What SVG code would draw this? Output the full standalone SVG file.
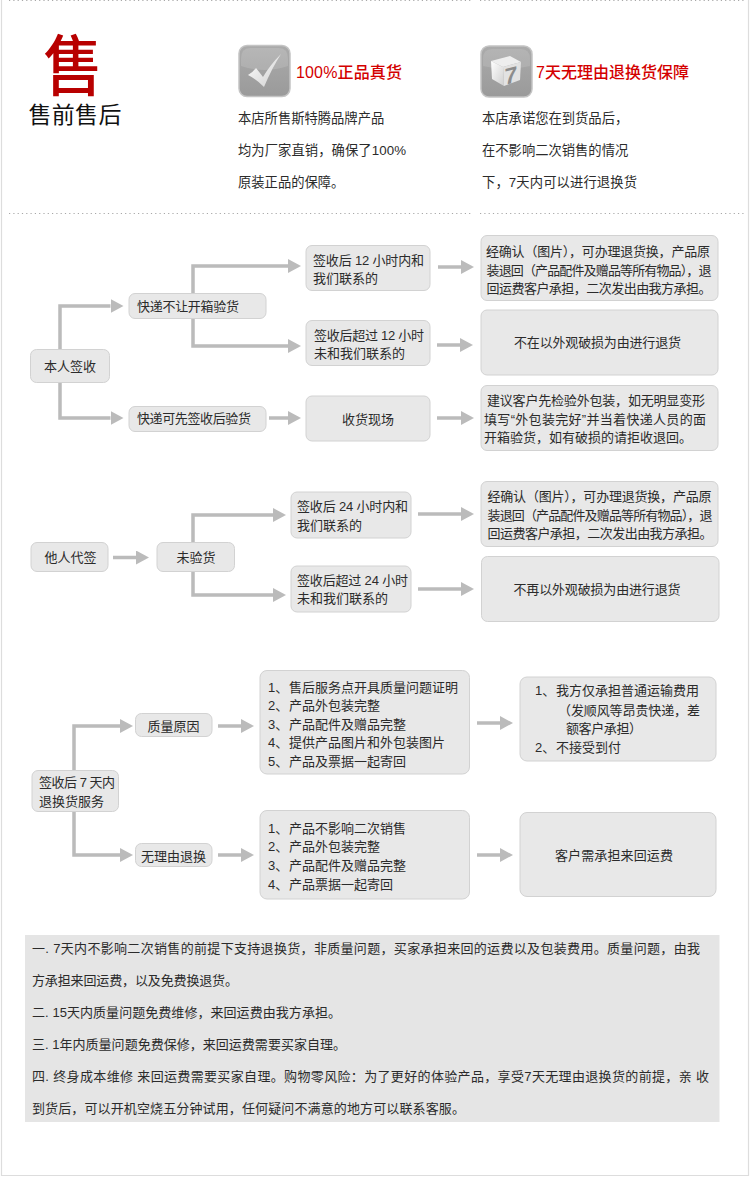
<svg xmlns="http://www.w3.org/2000/svg" width="750" height="1177" viewBox="0 0 750 1177">
<style>
text{font-family:"Liberation Sans","Noto Sans CJK SC",sans-serif;font-size:13px;fill:#2b2b2b}
.b{fill:#e8e8e8;stroke:#d2d2d2;stroke-width:1}
.c{fill:none;stroke:#bbb;stroke-width:3.5;marker-end:url(#h)}
.d{fill:none;stroke:#a8a8a8;stroke-width:1;stroke-dasharray:1.2 3.1}
.m{text-anchor:middle}
.t{font-size:16px;fill:#d40000;font-weight:500}
.p{font-size:13.3px}
</style>
<defs>
<marker id="h" markerUnits="userSpaceOnUse" markerWidth="13" markerHeight="14" refX="0" refY="7" orient="auto"><path d="M0 0L13 7L0 14z" fill="#bbb"/></marker>
<linearGradient id="g" x1="0" y1="0" x2="0" y2="1"><stop offset="0" stop-color="#ababab"/><stop offset="1" stop-color="#9a9a9a"/></linearGradient>
<linearGradient id="w" x1="0" y1="0" x2="1" y2="1"><stop offset="0" stop-color="#fff"/><stop offset="1" stop-color="#cfcfcf"/></linearGradient>
</defs>
<rect width="750" height="1177" fill="#fff"/>
<path d="M1.500 0V1175.500H748.500V0" fill="none" stroke="#ddd" stroke-width="1.200"/>
<path class="d" d="M9 .5H473M480 .5H745M9 213.500H473M480 213.500H745"/>

<g id="logo">
<text transform="translate(73 90) scale(.9 1)" class="m" style="font-size:66px;font-weight:500;fill:#b80000;font-family:'Noto Sans CJK SC',sans-serif">售</text>
<text x="28.500" y="123" style="font-size:23px;fill:#111;letter-spacing:.3px">售前售后</text>
</g>
<g id="guarantee-genuine">
<rect x="239" y="45.500" width="51" height="51" rx="8" fill="url(#g)" stroke="#c4c4c4" stroke-width="1.500"/>
<path d="M241 59Q241 48 250 48H279Q288 48 288 59V66Q264 74 241 66z" fill="#fff" opacity=".14"/>
<path d="M248 75Q253 72 256 68Q260 73 263 77Q270 65 281 54Q272 68 264 87Q256 79 248 75z" fill="url(#w)"/>
<text x="296" y="78" class="t" textLength="106">100%正品真货</text>
<text x="238" y="123" class="p">本店所售斯特腾品牌产品</text>
<text x="238" y="155" class="p" textLength="168">均为厂家直销，确保了100%</text>
<text x="238" y="187" class="p">原装正品的保障。</text>
</g>
<g id="guarantee-7day">
<rect x="481" y="46" width="51" height="51" rx="8" fill="url(#g)" stroke="#c4c4c4" stroke-width="1.500"/>
<path d="M483 59Q483 49 492 49H521Q530 49 530 59V66Q506 72 483 66z" fill="#fff" opacity=".12"/>
<path d="M491 61L510 56L521 62L503 67z" fill="#eee"/>
<path d="M491 61L503 67L504 86L492 79z" fill="url(#w)"/>
<path d="M503 67L521 62L520 80L504 86z" fill="#e2e2e2"/>
<text transform="translate(504.500 85) skewY(-14)" style="font-size:23px;font-weight:700;fill:#8c8c8c">7</text>
<text x="536" y="78" class="t" textLength="153">7天无理由退换货保障</text>
<text x="482" y="123" class="p">本店承诺您在到货品后，</text>
<text x="482" y="155" class="p">在不影响二次销售的情况</text>
<text x="482" y="187" class="p" textLength="155">下，7天内可以进行退换货</text>
</g>

<g id="connectors">
<path class="c" d="M60 349V306H110.500"/>
<path class="c" d="M60 382V418H110.500"/>
<path class="c" d="M193 293V266H288"/>
<path class="c" d="M193 318V346H288"/>
<path class="c" d="M269 418H288"/>
<path class="c" d="M438 267H461"/>
<path class="c" d="M437 345H460"/>
<path class="c" d="M437 418H461"/>
<path class="c" d="M113 557.500H136"/>
<path class="c" d="M193 542V515H273"/>
<path class="c" d="M193 572V595H273"/>
<path class="c" d="M418 514H461"/>
<path class="c" d="M418 589H461"/>
<path class="c" d="M74 770V726H120"/>
<path class="c" d="M74 812V855H120"/>
<path class="c" d="M218 726H241"/>
<path class="c" d="M218 855H241"/>
<path class="c" d="M477 723H500"/>
<path class="c" d="M477 855H500"/>
</g>

<g id="n-self"><rect class="b" x="30.500" y="349.500" width="79" height="33" rx="6"/><text x="70" y="371" class="m">本人签收</text></g>
<g id="n-noopen"><rect class="b" x="129" y="293.500" width="137" height="25" rx="6"/><text x="137" y="310.500" textLength="102">快递不让开箱验货</text></g>
<g id="n-signfirst"><rect class="b" x="129" y="406.500" width="137" height="25" rx="6"/><text x="137" y="423" textLength="114">快递可先签收后验货</text></g>
<g id="n-12in"><rect class="b" x="306" y="245.500" width="124" height="45" rx="6"/><text x="313" y="264.500" textLength="111">签收后 12 小时内和</text><text x="313" y="283">我们联系的</text></g>
<g id="n-12over"><rect class="b" x="306" y="320.500" width="124" height="45" rx="6"/><text x="314" y="339.500" textLength="110">签收后超过 12 小时</text><text x="314" y="357.500">未和我们联系的</text></g>
<g id="n-scene"><rect class="b" x="306" y="396" width="124" height="45" rx="6"/><text x="368" y="424" class="m">收货现场</text></g>
<g id="n-r1"><rect class="b" x="481" y="235.500" width="237" height="65" rx="6"/><text x="486" y="255.500" textLength="224">经确认（图片），可办理退货换，产品原</text><text x="486.500" y="274.500" textLength="225">装退回（产品配件及赠品等所有物品），退</text><text x="486.500" y="293" textLength="225">回运费客户承担，二次发出由我方承担。</text></g>
<g id="n-r2"><rect class="b" x="481" y="310" width="237" height="65" rx="6"/><text x="514" y="347" textLength="167">不在以外观破损为由进行退货</text></g>
<g id="n-r3"><rect class="b" x="481" y="385.500" width="237" height="65" rx="6"/><text x="487" y="405" textLength="218">建议客户先检验外包装，如无明显变形</text><text x="484" y="423.500" textLength="222">填写“外包装完好”并当着快递人员的面</text><text x="484" y="442" textLength="208">开箱验货，如有破损的请拒收退回。</text></g>

<g id="n-proxy"><rect class="b" x="31" y="542.500" width="77" height="29" rx="6"/><text x="70.500" y="562" class="m">他人代签</text></g>
<g id="n-unchecked"><rect class="b" x="157" y="542.500" width="77.500" height="29" rx="6"/><text x="196" y="562" class="m">未验货</text></g>
<g id="n-24in"><rect class="b" x="291" y="492" width="120" height="46" rx="6"/><text x="297" y="511" textLength="111">签收后 24 小时内和</text><text x="297" y="530">我们联系的</text></g>
<g id="n-24over"><rect class="b" x="291" y="566" width="120" height="46" rx="6"/><text x="297" y="584.500" textLength="111">签收后超过 24 小时</text><text x="297" y="603">未和我们联系的</text></g>
<g id="n-r4"><rect class="b" x="481" y="481.500" width="237" height="65" rx="6"/><text x="487.500" y="500.500" textLength="224">经确认（图片），可办理退货换，产品原</text><text x="487.500" y="519.500" textLength="225">装退回（产品配件及赠品等所有物品），退</text><text x="487.500" y="538" textLength="225">回运费客户承担，二次发出由我方承担。</text></g>
<g id="n-r5"><rect class="b" x="481.500" y="556.500" width="237.500" height="65" rx="6"/><text x="513.500" y="594" textLength="167">不再以外观破损为由进行退货</text></g>

<g id="n-7day"><rect class="b" x="32" y="770.500" width="86.500" height="41" rx="6"/><text x="39" y="787" textLength="76">签收后 7 天内</text><text x="39" y="806">退换货服务</text></g>
<g id="n-quality"><rect class="b" x="135.500" y="713.500" width="76.500" height="23" rx="6"/><text x="173.500" y="730.500" class="m">质量原因</text></g>
<g id="n-noreason"><rect class="b" x="135.500" y="843.500" width="76.500" height="23" rx="6"/><text x="173.500" y="860.500" class="m">无理由退换</text></g>
<g id="n-list1"><rect class="b" x="260" y="670.500" width="209.500" height="103.500" rx="7"/>
<text x="268" y="691.500">1、<tspan x="289">售后服务点开具质量问题证明</tspan></text>
<text x="268" y="710">2、<tspan x="289">产品外包装完整</tspan></text>
<text x="268" y="728.500">3、<tspan x="289">产品配件及赠品完整</tspan></text>
<text x="268" y="747">4、<tspan x="289">提供产品图片和外包装图片</tspan></text>
<text x="268" y="766">5、<tspan x="289">产品及票据一起寄回</tspan></text></g>
<g id="n-list2"><rect class="b" x="260" y="810.500" width="209.500" height="88.500" rx="7"/>
<text x="268" y="832.500">1、<tspan x="289">产品不影响二次销售</tspan></text>
<text x="268" y="851">2、<tspan x="289">产品外包装完整</tspan></text>
<text x="268" y="870">3、<tspan x="289">产品配件及赠品完整</tspan></text>
<text x="268" y="889">4、<tspan x="289">产品票据一起寄回</tspan></text></g>
<g id="n-r6"><rect class="b" x="520" y="677" width="196" height="84" rx="7"/>
<text x="535" y="695">1、<tspan x="556">我方仅承担普通运输费用</tspan></text>
<text x="558" y="715" textLength="142">（发顺风等昂贵快递，差</text>
<text x="566" y="733" textLength="76">额客户承担）</text>
<text x="535" y="752">2、<tspan x="556">不接受到付</tspan></text></g>
<g id="n-r7"><rect class="b" x="520" y="812.500" width="196" height="84" rx="7"/><text x="555" y="860" textLength="118">客户需承担来回运费</text></g>

<g id="notes">
<rect x="25" y="935" width="694.500" height="187" fill="#e5e5e5"/>
<text x="32" y="953" textLength="668">一. 7天内不影响二次销售的前提下支持退换货，非质量问题，买家承担来回的运费以及包装费用。质量问题，由我</text>
<text x="32" y="985" textLength="206">方承担来回运费，以及免费换退货。</text>
<text x="32" y="1017" textLength="309">二. 15天内质量问题免费维修，来回运费由我方承担。</text>
<text x="32" y="1049" textLength="314">三. 1年内质量问题免费保修，来回运费需要买家自理。</text>
<text x="32" y="1081" textLength="677">四. 终身成本维修 来回运费需要买家自理。购物零风险：为了更好的体验产品，享受7天无理由退换货的前提，亲 收</text>
<text x="32" y="1113" textLength="433">到货后，可以开机空烧五分钟试用，任何疑问不满意的地方可以联系客服。</text>
</g>
</svg>
